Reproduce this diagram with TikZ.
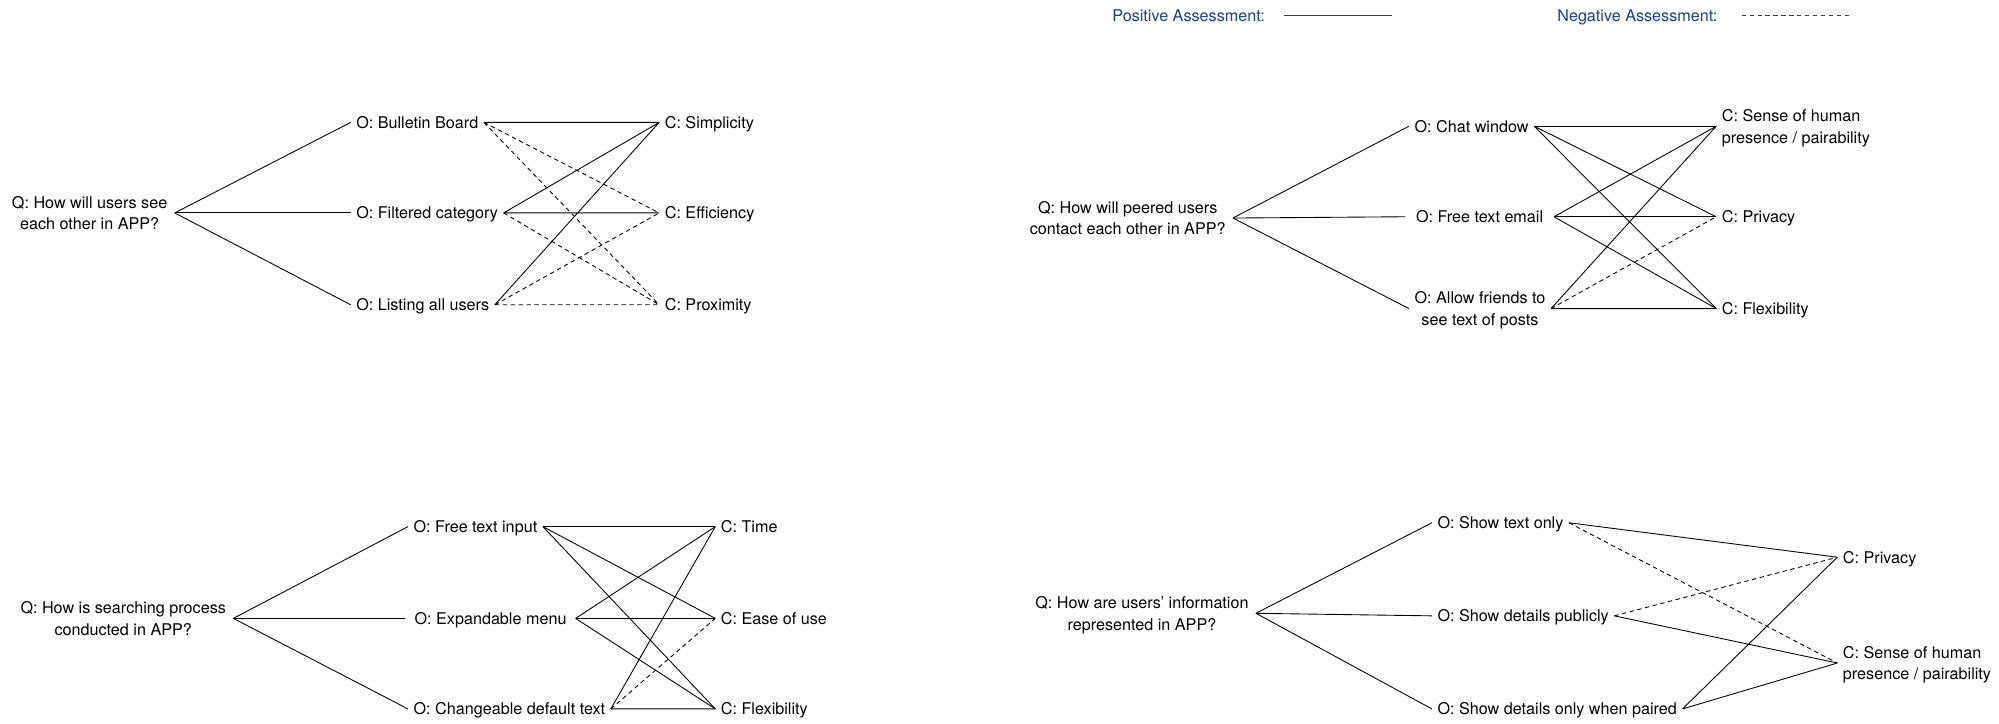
\documentclass[tikz,border=0pt]{standalone}
\usepackage{fontspec}
\setmainfont{TeX Gyre Heros}
\definecolor{legendblue}{RGB}{20,65,145}
\begin{document}
\begin{tikzpicture}[x=0.0255cm,y=-0.0255cm,
        every node/.style={font=\fontsize{9.2}{12.4}\selectfont,inner xsep=3pt,inner ysep=1pt,text depth=0pt},
        q/.style={anchor=east,align=center,inner xsep=4pt},
        opt/.style={anchor=west,align=center},
        crit/.style={anchor=west,align=left},
        posline/.style={line width=0.5pt},
        negline/.style={line width=0.5pt,dash pattern=on 2.5pt off 2pt}]
    \useasboundingbox (0,0) rectangle (1567.8,567.8);
    % legend
    \node[opt,text=legendblue] (lpos) at (868,12) {Positive Assessment:};
    \node[opt,text=legendblue] (lneg) at (1217,12) {Negative Assessment:};
    \coordinate (lp1) at (1007,12); \coordinate (lp2) at (1092,12);
    \coordinate (ln1) at (1366,12); \coordinate (ln2) at (1451,12);
    \draw[posline,legendblue] (lp1)--(lp2);
    \draw[negline,legendblue] (ln1)--(ln2);
    % top left
    \begin{scope}
        \node[q] (q1) at (137,167) {Q: How will users see\\each other in APP?};
        \node[opt] (o11) at (275,96) {O: Bulletin Board};
        \node[opt] (o12) at (275,167) {O: Filtered category};
        \node[opt] (o13) at (275,239) {O: Listing all users};
        \node[crit] (c11) at (517,96) {C: Simplicity};
        \node[crit] (c12) at (517,167) {C: Efficiency};
        \node[crit] (c13) at (517,239) {C: Proximity};
        \foreach \o in {o11,o12,o13} \draw[posline] (q1.east)--(\o.west);
        \draw[posline] (o11.east)--(c11.west) (o12.east)--(c11.west) (o12.east)--(c12.west) (o13.east)--(c11.west);
        \draw[negline] (o11.east)--(c12.west) (o11.east)--(c13.west) (o12.east)--(c13.west) (o13.east)--(c12.west) (o13.east)--(c13.west);
    \end{scope}
    % top right
    \begin{scope}
        \node[q] (q2) at (967,171) {Q: How will peered users\\contact each other in APP?};
        \node[opt] (o21) at (1105,99) {O: Chat window};
        \node[opt,inner xsep=6pt] (o22) at (1102,170) {O: Free text email};
        \node[opt] (o23) at (1105,242) {O: Allow friends to\\see text of posts};
        \node[crit] (c21) at (1346,99) {C: Sense of human\\presence / pairability};
        \node[crit] (c22) at (1346,170) {C: Privacy};
        \node[crit] (c23) at (1346,242) {C: Flexibility};
        \foreach \o in {o21,o22,o23} \draw[posline] (q2.east)--(\o.west);
        \foreach \o in {o21,o22} \foreach \c in {c21,c22,c23} \draw[posline] (\o.east)--(\c.west);
        \draw[posline] (o23.east)--(c21.west) (o23.east)--(c23.west);
        \draw[negline] (o23.east)--(c22.west);
    \end{scope}
    % bottom left
    \begin{scope}
        \node[q] (q3) at (183,485) {Q: How is searching process\\conducted in APP?};
        \node[opt] (o31) at (320,413) {O: Free text input};
        \node[opt,inner xsep=5pt] (o32) at (318,485) {O: Expandable menu};
        \node[opt] (o33) at (320,556) {O: Changeable default text};
        \node[crit] (c31) at (561,413) {C: Time};
        \node[crit] (c32) at (561,485) {C: Ease of use};
        \node[crit] (c33) at (561,556) {C: Flexibility};
        \foreach \o in {o31,o32,o33} \draw[posline] (q3.east)--(\o.west);
        \foreach \o in {o31,o32} \foreach \c in {c31,c32,c33} \draw[posline] (\o.east)--(\c.west);
        \draw[posline] (o33.east)--(c31.west) (o33.east)--(c33.west);
        \draw[negline] (o33.east)--(c32.west);
    \end{scope}
    % bottom right
    \begin{scope}
        \node[q] (q4) at (985,481) {Q: How are users’ information\\represented in APP?};
        \node[opt] (o41) at (1123,410) {O: Show text only};
        \node[opt] (o42) at (1123,483) {O: Show details publicly};
        \node[opt] (o43) at (1123,556) {O: Show details only when paired};
        \node[crit] (c41) at (1441,437) {C: Privacy};
        \node[crit] (c42) at (1441,520) {C: Sense of human\\presence / pairability};
        \foreach \o in {o41,o42,o43} \draw[posline] (q4.east)--(\o.west);
        \draw[posline] (o41.east)--(c41.west) (o42.east)--(c42.west) (o43.east)--(c41.west) (o43.east)--(c42.west);
        \draw[negline] (o41.east)--(c42.west) (o42.east)--(c41.west);
    \end{scope}
\end{tikzpicture}
\end{document}
